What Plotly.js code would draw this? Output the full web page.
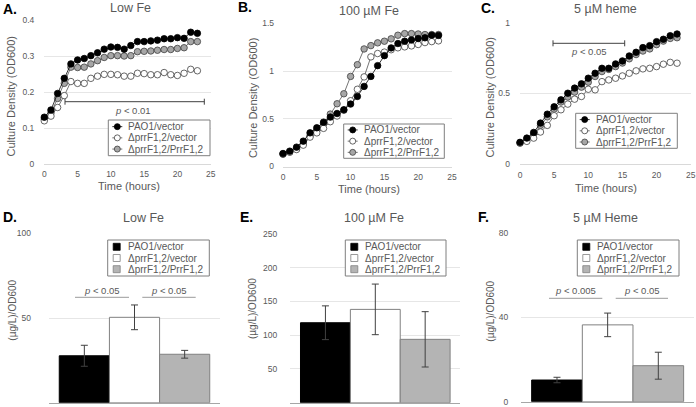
<!DOCTYPE html>
<html><head><meta charset="utf-8">
<script src="https://cdn.plot.ly/plotly-3.0.1.min.js"></script>
<style>html,body{margin:0;padding:0;background:#fff}#chart{width:696px;height:407px}</style>
</head><body><div id="chart"></div>
<script>
// ---------- data ----------
const hours = [0,1,2,3,4,5,6,7,8,9,10,11,12,13,14,15,16,17,18,19,20,21,22,23];
const strains = ['PAO1/vector','\u0394prrF1,2/vector','\u0394prrF1,2/PrrF1,2'];

// A. Low Fe growth (OD600)
const lowFePAO1 = [0.130,0.150,0.196,0.238,0.278,0.289,0.293,0.301,0.309,0.319,0.325,0.324,0.319,0.329,0.340,0.340,0.342,0.344,0.348,0.348,0.351,0.349,0.366,0.363];
const lowFeDVec = [0.120,0.133,0.157,0.190,0.229,0.224,0.224,0.238,0.244,0.249,0.249,0.248,0.244,0.244,0.252,0.251,0.248,0.248,0.254,0.248,0.246,0.252,0.263,0.259];
const lowFeComp = [0.125,0.142,0.182,0.224,0.269,0.268,0.269,0.278,0.287,0.296,0.301,0.301,0.300,0.301,0.312,0.313,0.314,0.316,0.318,0.318,0.321,0.323,0.340,0.340];

// B. 100 µM Fe growth
const fePAO1 = [0.136,0.161,0.203,0.266,0.353,0.406,0.465,0.518,0.556,0.595,0.655,0.735,0.840,0.945,1.058,1.163,1.244,1.290,1.314,1.328,1.342,1.350,1.377,1.375];
const feDVec = [0.130,0.150,0.178,0.224,0.308,0.353,0.400,0.470,0.530,0.590,0.690,0.810,0.940,1.150,1.185,1.200,1.225,1.245,1.255,1.265,1.280,1.300,1.310,1.318];
const feComp = [0.130,0.152,0.185,0.240,0.320,0.380,0.450,0.550,0.658,0.763,0.945,1.068,1.233,1.268,1.297,1.314,1.339,1.377,1.394,1.394,1.390,1.384,1.384,1.384];

// C. 5 µM heme growth
const hemePAO1 = [0.155,0.185,0.225,0.291,0.354,0.406,0.455,0.502,0.538,0.568,0.608,0.643,0.678,0.678,0.709,0.730,0.765,0.791,0.824,0.838,0.866,0.883,0.908,0.920];
const hemeDVec = [0.150,0.162,0.185,0.228,0.275,0.343,0.385,0.425,0.460,0.479,0.530,0.526,0.584,0.596,0.608,0.624,0.643,0.660,0.674,0.678,0.690,0.707,0.720,0.714];
const hemeComp = [0.150,0.178,0.215,0.275,0.335,0.390,0.440,0.475,0.510,0.545,0.580,0.620,0.655,0.670,0.690,0.715,0.745,0.775,0.800,0.815,0.845,0.870,0.889,0.894];

// D-F. pyoverdine (µg/L)/OD600, order = strains
const pvdLowFe = [27.7, 50.4, 28.6];
const pvdLowFeErr = [6.2, 7.3, 2.3];
const pvdFe = [118.5, 138.3, 93.9];
const pvdFeErr = [25, 37.5, 41];
const pvdHeme = [10.3, 36.5, 17.1];
const pvdHemeErr = [1.3, 5.6, 6.4];

// ---------- helpers ----------
const W = 696, H = 407;
const px = v => v / W;
const py = v => 1 - v / H;
const FONT = 'Liberation Sans, Arial, sans-serif';
const TXT = '#595959';

const lineStyles = [
  {fill:'#000000', edge:'#000000', line:'#000000'},
  {fill:'#ffffff', edge:'#404040', line:'#505050'},
  {fill:'#a6a6a6', edge:'#404040', line:'#505050'}
];
const barStyles = [
  {fill:'#000000', edge:'#000000'},
  {fill:'#ffffff', edge:'#808080'},
  {fill:'#b4b4b4', edge:'#808080'}
];

const traces = [];
function growth(xa, ya, series) {
  [2,1,0].forEach(i => {
    traces.push({
      type:'scatter', mode:'lines+markers', x:hours, y:series[i], xaxis:xa, yaxis:ya,
      showlegend:false, cliponaxis:false,
      line:{color:lineStyles[i].line, width:0.8},
      marker:{size:6.5, color:lineStyles[i].fill, line:{color:lineStyles[i].edge, width:0.8}}
    });
  });
}
growth('x','y',[lowFePAO1, lowFeDVec, lowFeComp]);
growth('x2','y2',[fePAO1, feDVec, feComp]);
growth('x3','y3',[hemePAO1, hemeDVec, hemeComp]);

function bars(xa, ya, vals, errs) {
  [0,1,2].forEach(i => {
    traces.push({
      type:'bar', x:['pvd'], y:[vals[i]], xaxis:xa, yaxis:ya, showlegend:false,
      marker:{color:barStyles[i].fill, line:{color:barStyles[i].edge, width:1}},
      error_y:{type:'data', array:[errs[i]], visible:true, color:'#404040', thickness:1, width:3.5}
    });
  });
}
bars('x4','y4', pvdLowFe, pvdLowFeErr);
bars('x5','y5', pvdFe, pvdFeErr);
bars('x6','y6', pvdHeme, pvdHemeErr);

const tickF = {family:FONT, size:8.5, color:TXT};
function xLine(dom, anchor) {
  return {domain:[px(dom[0]), px(dom[1])], anchor:anchor, range:[0,25], dtick:5, tick0:0,
    showgrid:false, zeroline:false, showline:true, linecolor:'#d9d9d9', linewidth:1,
    ticks:'', tickfont:tickF, ticklabelstandoff:2, fixedrange:true};
}
// dom = [bottomPixel, topPixel]
function yAx(dom, anchor, range, dtick, standoff) {
  return {domain:[py(dom[0]), py(dom[1])], anchor:anchor, range:range, dtick:dtick, tick0:0,
    showgrid:true, gridcolor:'#e6e6e6', gridwidth:1, zeroline:false, showline:false,
    ticks:'', tickfont:tickF, ticklabelstandoff:standoff, fixedrange:true};
}
function xBar(dom, anchor) {
  return {domain:[px(dom[0]), px(dom[1])], anchor:anchor, type:'category',
    showticklabels:false, showgrid:false, zeroline:false, showline:true,
    linecolor:'#a6a6a6', linewidth:1, ticks:'', fixedrange:true};
}

const layout = {
  width:W, height:H, margin:{l:0,r:0,t:0,b:0},
  paper_bgcolor:'#ffffff', plot_bgcolor:'rgba(0,0,0,0)',
  font:{family:FONT, color:TXT},
  showlegend:false, barmode:'group', bargap:0.12, bargroupgap:0,
  xaxis: xLine([44.3,210.7],'y'),
  yaxis: yAx([164,20],'x',[0,0.4],0.1,9),
  xaxis2: xLine([283,452],'y2'),
  yaxis2: yAx([166.5,23.5],'x2',[0,1.5],0.5,8),
  xaxis3: xLine([520,690.7],'y3'),
  yaxis3: yAx([164.3,22.7],'x3',[0,1],0.5,9),
  xaxis4: xBar([49,220],'y4'),
  yaxis4: yAx([402.7,233.3],'x4',[0,100],50,17),
  xaxis5: xBar([290.3,460.3],'y5'),
  yaxis5: yAx([402.7,234],'x5',[0,250],50,12),
  xaxis6: xBar([521.3,694],'y6'),
  yaxis6: yAx([401.7,233.3],'x6',[0,80],40,12),
  annotations:[], shapes:[]
};
const ann = layout.annotations, shp = layout.shapes;

function text(t, x, y, opts) {
  ann.push(Object.assign({text:t, xref:'paper', yref:'paper', x:px(x), y:py(y),
    xanchor:'center', yanchor:'middle', showarrow:false,
    font:{family:FONT, size:10, color:TXT}}, opts||{}));
}
[['A.',1,9],['B.',236,7],['C.',479,8.5],['D.',1,216.7],['E.',238.5,216.7],['F.',475.5,216.7]].forEach(l=>
  text('<b>'+l[0]+'</b>', l[1], l[2], {xanchor:'left', font:{family:FONT, size:14, color:'#000'}}));
[['Low Fe',130,7.5],['100 \u00b5M Fe',368.7,11],['5 \u00b5M heme',605.7,9],
 ['Low Fe',143.3,218.3],['100 \u00b5M Fe',373.7,218.3],['5 \u00b5M Heme',605.7,218]].forEach(t=>
  text(t[0], t[1], t[2], {font:{family:FONT, size:12.5, color:TXT}}));
[[129,186],[368.7,189],[605.7,188]].forEach(p=>
  text('Time (hours)', p[0], p[1], {font:{family:FONT, size:11, color:TXT}}));
[[10.5,97],[252.8,98.3],[490,97.5]].forEach(p=>
  text('Culture Density (OD600)', p[0], p[1], {textangle:-90, font:{family:FONT, size:11, color:TXT}}));
[[11.7,310],[252,309],[489.7,311]].forEach(p=>
  text('(\u00b5g/L)/OD600', p[0], p[1], {textangle:-90, font:{family:FONT, size:10, color:TXT}}));

function hline(x0,x1,y,color){ shp.push({type:'line', xref:'paper', yref:'paper', x0:px(x0), x1:px(x1), y0:py(y), y1:py(y), line:{color:color, width:1}}); }
function vline(x,y0,y1,color){ shp.push({type:'line', xref:'paper', yref:'paper', x0:px(x), x1:px(x), y0:py(y0), y1:py(y1), line:{color:color, width:1}}); }
const sigF = {family:FONT, size:9.5, color:TXT};
hline(65,204.3,101.7,'#404040'); vline(65,98.7,104.7,'#404040'); vline(204.3,98.7,104.7,'#404040');
text('<i>p</i> < 0.01', 133, 110, {font:sigF});
hline(553,624.7,43.3,'#404040'); vline(553,40.3,46.3,'#404040'); vline(624.7,40.3,46.3,'#404040');
text('<i>p</i> < 0.05', 589, 52, {font:sigF});
hline(75,129,297.3,'#9a9a9a'); text('<i>p</i> < 0.05', 102, 290.7, {font:sigF});
hline(142.3,195.7,297.3,'#9a9a9a'); text('<i>p</i> < 0.05', 169, 290.7, {font:sigF});
hline(549,602.3,298.3,'#9a9a9a'); text('<i>p</i> < 0.005', 575.7, 290.7, {font:sigF});
hline(615.7,668,298.3,'#9a9a9a'); text('<i>p</i> < 0.05', 641.8, 290.7, {font:sigF});

const legF = {family:FONT, size:10, color:TXT};
function legendBox(x0,y0,x1,y1,kind){
  shp.push({type:'rect', xref:'paper', yref:'paper', x0:px(x0), x1:px(x1), y0:py(y1), y1:py(y0),
    line:{color:'#7f7f7f', width:1}, fillcolor:'#ffffff'});
  const cy = (y0+y1)/2, step = 11.2;
  strains.forEach((s,i)=>{
    const ry = cy + (i-1)*step;
    const mx = x0 + 9;
    if (kind==='circle') {
      shp.push({type:'line', xref:'paper', yref:'paper', x0:px(mx-5), x1:px(mx+5), y0:py(ry), y1:py(ry), line:{color:lineStyles[i].line, width:0.8}});
      shp.push({type:'circle', xref:'paper', yref:'paper', x0:px(mx-3), x1:px(mx+3), y0:py(ry+3), y1:py(ry-3),
        fillcolor:lineStyles[i].fill, line:{color:lineStyles[i].edge, width:0.8}});
    } else {
      shp.push({type:'rect', xref:'paper', yref:'paper', x0:px(mx-3.5), x1:px(mx+3.5), y0:py(ry+3.5), y1:py(ry-3.5),
        fillcolor:barStyles[i].fill, line:{color:barStyles[i].edge, width:0.8}});
    }
    text(s, x0+18, ry, {xanchor:'left', font:legF});
  });
}
legendBox(108.3,120,210,155.7,'circle');
legendBox(343.7,124,444.3,158.3,'circle');
legendBox(575.7,113.3,677.3,148.3,'circle');
legendBox(107.7,240,209.3,276,'square');
legendBox(345.3,240,446,276,'square');
legendBox(577.3,240,679,276,'square');

Plotly.newPlot('chart', traces, layout, {staticPlot:true, displayModeBar:false});
</script>
</body></html>
